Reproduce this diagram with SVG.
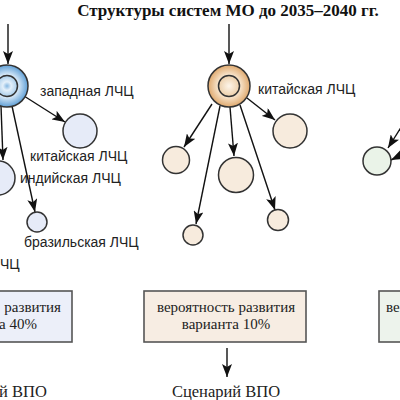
<svg xmlns="http://www.w3.org/2000/svg" width="400" height="400" viewBox="0 0 400 400">
<style>
.title{font-family:"Liberation Serif","Times New Roman",serif;font-weight:bold;font-size:17px;fill:#111}
.lbl{font-family:"Liberation Sans",Arial,sans-serif;font-size:14px;fill:#222}
.box{font-family:"Liberation Serif","Times New Roman",serif;font-size:15px;fill:#222}
.scen{font-family:"Liberation Serif","Times New Roman",serif;font-size:16.5px;fill:#222}
.c{stroke:#333;stroke-width:1.5}
.edge{stroke:#111;stroke-width:1.4;fill:none;marker-end:url(#ah)}
.rb{stroke:#555;stroke-width:1.6}
</style>
<defs>
<marker id="ah" markerUnits="userSpaceOnUse" markerWidth="14" markerHeight="10" refX="13" refY="5" orient="auto">
<path d="M0,0 L13,5 L0,10 L3,5 z" fill="#111"/>
</marker>
<radialGradient id="gBo" cx="50%" cy="50%" r="50%">
<stop offset="0.5" stop-color="#e2effa"/>
<stop offset="1" stop-color="#5f9fd6"/>
</radialGradient>
<radialGradient id="gBi" cx="50%" cy="50%" r="50%">
<stop offset="0" stop-color="#86b8e2"/>
<stop offset="0.4" stop-color="#e4f0fa"/>
<stop offset="1" stop-color="#a9cdea"/>
</radialGradient>
<radialGradient id="gOo" cx="50%" cy="50%" r="50%">
<stop offset="0.5" stop-color="#f9e8d2"/>
<stop offset="1" stop-color="#dfa96e"/>
</radialGradient>
<radialGradient id="gOi" cx="50%" cy="50%" r="50%">
<stop offset="0" stop-color="#fdf5ea"/>
<stop offset="1" stop-color="#eccfaa"/>
</radialGradient>
</defs>
<text class="title" x="228" y="16" text-anchor="middle">Структуры систем МО до 2035–2040 гг.</text>
<g id="connectors">
<line class="edge" x1="8" y1="24" x2="8" y2="64"/>
<line class="edge" x1="24" y1="96" x2="65" y2="122"/>
<line class="edge" x1="1" y1="106" x2="3" y2="160"/>
<line class="edge" x1="12" y1="106" x2="35" y2="212"/>
<line class="edge" x1="229" y1="24" x2="229" y2="64"/>
<line class="edge" x1="212" y1="104" x2="184" y2="147"/>
<line class="edge" x1="220" y1="106" x2="196" y2="224"/>
<line class="edge" x1="230" y1="107" x2="234" y2="156"/>
<line class="edge" x1="240" y1="105" x2="275" y2="210"/>
<line class="edge" x1="247" y1="98" x2="275" y2="120"/>
<line class="edge" x1="412" y1="110" x2="388" y2="148"/>
<line class="edge" x1="412" y1="150" x2="391" y2="160"/>
<line class="edge" x1="227" y1="348" x2="227" y2="377"/>
</g>
<g id="main-left">
<circle class="c" cx="7" cy="86" r="21" fill="url(#gBo)"/>
<circle class="c" cx="7" cy="86" r="10.5" fill="url(#gBi)"/>
</g>
<g id="west">
<circle class="c" cx="80" cy="131" r="17" fill="#e6ebf8"/>
<text class="lbl" x="40" y="96">западная ЛЧЦ</text>
</g>
<g id="china-left">
<text class="lbl" x="30" y="161">китайская ЛЧЦ</text>
</g>
<g id="india">
<circle class="c" cx="-2" cy="178" r="17" fill="#e6ebf8"/>
<text class="lbl" x="20" y="183">индийская ЛЧЦ</text>
</g>
<g id="brazil">
<circle class="c" cx="37" cy="222" r="10" fill="#e6ebf8"/>
<text class="lbl" x="24" y="247">бразильская ЛЧЦ</text>
</g>
<g id="cut-left">
<text class="lbl" x="0" y="269">ЧЦ</text>
</g>
<g id="main-mid">
<circle class="c" cx="229" cy="86" r="21" fill="url(#gOo)"/>
<circle class="c" cx="229" cy="86" r="10.5" fill="url(#gOi)"/>
<text class="lbl" x="258" y="94">китайская ЛЧЦ</text>
</g>
<g id="m1"><circle class="c" cx="290" cy="131" r="17" fill="#f7ebdd"/></g>
<g id="m2"><circle class="c" cx="176" cy="160" r="13.5" fill="#f7ebdd"/></g>
<g id="m3"><circle class="c" cx="236" cy="175" r="17.5" fill="#f7ebdd"/></g>
<g id="m4"><circle class="c" cx="278" cy="220" r="10.5" fill="#f7ebdd"/></g>
<g id="m5"><circle class="c" cx="193" cy="235" r="10" fill="#f7ebdd"/></g>
<g id="r1"><circle class="c" cx="377" cy="161" r="14" fill="#eaf3e8"/></g>
<g id="box-left">
<rect class="rb" x="-92" y="291" width="164" height="51" fill="#eceff9"/>
<text class="box" x="61" y="312" text-anchor="end">развития</text>
<text class="box" x="37" y="329" text-anchor="end">а 40%</text>
</g>
<g id="box-mid">
<rect class="rb" x="144" y="291" width="162" height="51" fill="#f7ede3"/>
<text class="box" x="226" y="312" text-anchor="middle">вероятность развития</text>
<text class="box" x="226" y="329" text-anchor="middle">варианта 10%</text>
</g>
<g id="box-right">
<rect class="rb" x="379" y="291" width="164" height="51" fill="#edf3ec"/>
<text class="box" x="386" y="312">ве</text>
</g>
<g id="scen-left">
<text class="scen" x="-1" y="397">й ВПО</text>
</g>
<g id="scen-mid">
<text class="scen" x="226" y="397" text-anchor="middle">Сценарий ВПО</text>
</g>
</svg>
